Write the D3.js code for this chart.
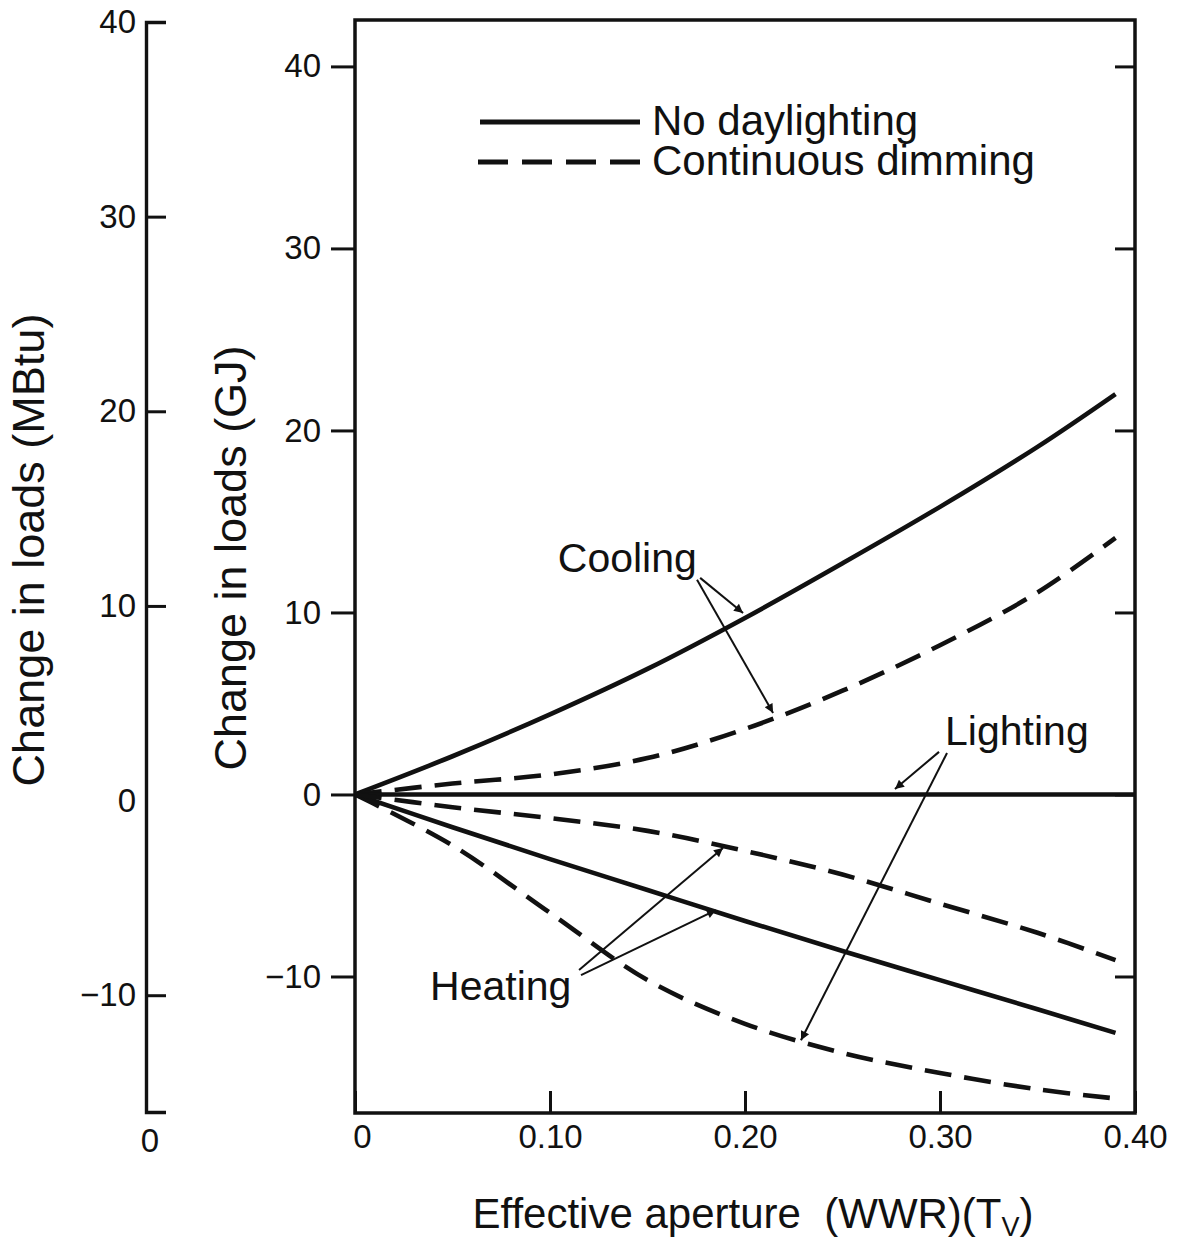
<!DOCTYPE html>
<html>
<head>
<meta charset="utf-8">
<script src="https://cdn.jsdelivr.net/npm/d3@7"></script>
<style>
  html, body { margin: 0; padding: 0; background: #fff; }
  text { font-family: "Liberation Sans", Arial, sans-serif; fill: #111; }
</style>
</head>
<body>
<svg width="1182" height="1244"></svg>
<script>
// effective aperture values (x) and change in loads, GJ
var aperture = [0, 0.05, 0.10, 0.15, 0.20, 0.25, 0.30, 0.35, 0.39];
var coolingNoDaylight = [0, 2.1, 4.4, 6.9, 9.7, 12.7, 15.8, 19.1, 22.0];
var coolingDimming = [0, 0.6, 1.1, 2.0, 3.6, 5.7, 8.2, 11.1, 14.1];
var heatingNoDaylight = [0, -1.8, -3.55, -5.25, -6.95, -8.6, -10.2, -11.8, -13.1];
var heatingDimming = [0, -0.7, -1.3, -2.0, -3.1, -4.4, -6.0, -7.6, -9.1];
var lightingDimming = [0, -2.8, -6.5, -10.2, -12.6, -14.2, -15.3, -16.2, -16.7];
var lightingAperture = [0, 0.40];
var lightingNoDaylight = [0, 0];

var gjTicks = [40, 30, 20, 10, 0, -10];
var mbtuTicks = [40, 30, 20, 10, 0, -10];
var xTicks = [0, 0.10, 0.20, 0.30, 0.40];
var xTickLabels = ["0", "0.10", "0.20", "0.30", "0.40"];

var legendItems = ["No daylighting", "Continuous dimming"];

// annotation labels: [text, x, y] and arrows [x0, y0, x1, y1] in data units
var labels = [
  ["Cooling", 0.104, 12.2],
  ["Lighting", 0.3026, 2.7],
  ["Heating", 0.0385, -11.3]
];
var arrows = [
  [0.177, 11.9, 0.199, 9.97],
  [0.1754, 11.8, 0.2144, 4.48],
  [0.2995, 2.34, 0.2769, 0.3],
  [0.3036, 2.28, 0.2287, -13.5],
  [0.1149, -9.64, 0.1887, -2.94],
  [0.1159, -9.92, 0.1851, -6.35]
];

var svg = d3.select("svg");

svg.append("rect").attr("width", 1182).attr("height", 1244).attr("fill", "#fff");

var x = d3.scaleLinear().domain([0, 0.4]).range([355, 1135]);
var y = d3.scaleLinear().domain([-17.5, 42.55]).range([1113, 20]);
var yB = d3.scaleLinear().domain([-16, 40]).range([1112, 22]);

var defs = svg.append("defs");
defs.append("marker")
  .attr("id", "head")
  .attr("viewBox", "0 0 10 10")
  .attr("refX", 10)
  .attr("refY", 5)
  .attr("markerWidth", 17)
  .attr("markerHeight", 9)
  .attr("markerUnits", "userSpaceOnUse")
  .attr("orient", "auto")
  .append("path")
  .attr("d", "M0,0L10,5L0,10Z")
  .attr("fill", "#111");

// MBtu axis on the far left
var mbtuAxis = svg.append("g")
  .attr("transform", "translate(146,0)")
  .call(d3.axisLeft(yB).tickValues(mbtuTicks).tickSizeInner(-20).tickSizeOuter(-20).tickPadding(10));

mbtuAxis.select(".domain").attr("stroke", "#111").attr("stroke-width", 3.4);
mbtuAxis.selectAll(".tick line").attr("stroke", "#111").attr("stroke-width", 3)
  .filter(function(d) { return d === 0; }).remove();
mbtuAxis.selectAll(".tick text").attr("font-size", 33).attr("font-family", null);

svg.append("text")
  .attr("x", 150)
  .attr("y", 1152)
  .attr("text-anchor", "middle")
  .attr("font-size", 33)
  .text("0");

// main plot axes
var leftAxis = svg.append("g")
  .attr("transform", "translate(355,0)")
  .call(d3.axisLeft(y).tickValues(gjTicks).tickSize(24).tickPadding(10));

var rightAxis = svg.append("g")
  .attr("transform", "translate(1135,0)")
  .call(d3.axisLeft(y).tickValues(gjTicks).tickSize(20).tickFormat(""));

var bottomAxis = svg.append("g")
  .attr("transform", "translate(0,1113)")
  .call(d3.axisBottom(x).tickValues(xTicks).tickSizeInner(-22).tickSizeOuter(0).tickPadding(12)
    .tickFormat(function(d, i) { return xTickLabels[i]; }));

[leftAxis, rightAxis, bottomAxis].forEach(function(a) {
  a.select(".domain").remove();
  a.selectAll(".tick line").attr("stroke", "#111").attr("stroke-width", 3);
  a.selectAll(".tick text").attr("font-size", 33).attr("font-family", null);
});
bottomAxis.selectAll(".tick text").filter(function(d) { return d === 0; }).attr("x", 7);

// frame
svg.append("rect")
  .attr("x", x(0))
  .attr("y", y.range()[1])
  .attr("width", x(0.4) - x(0))
  .attr("height", y.range()[0] - y.range()[1])
  .attr("fill", "none")
  .attr("stroke", "#111")
  .attr("stroke-width", 3.5);

// axis titles
svg.append("text")
  .attr("transform", "translate(44,550)rotate(-90)")
  .attr("text-anchor", "middle")
  .attr("font-size", 45)
  .text("Change in loads (MBtu)");

svg.append("text")
  .attr("transform", "translate(246,558)rotate(-90)")
  .attr("text-anchor", "middle")
  .attr("font-size", 45)
  .text("Change in loads (GJ)");

var xTitle = svg.append("text")
  .attr("x", 753)
  .attr("y", 1228)
  .attr("text-anchor", "middle")
  .attr("font-size", 42);
xTitle.append("tspan").text("Effective aperture\u00a0\u00a0(WWR)(T");
xTitle.append("tspan").attr("font-size", 27).attr("dy", 8).text("V");
xTitle.append("tspan").attr("dy", -8).text(")");

// curves
var line = d3.line()
  .x(function(d) { return x(d[0]); })
  .y(function(d) { return y(d[1]); })
  .curve(d3.curveCatmullRom.alpha(0.5));

var series = [
  { xs: aperture, ys: coolingNoDaylight, dashed: false },
  { xs: aperture, ys: coolingDimming, dashed: true },
  { xs: lightingAperture, ys: lightingNoDaylight, dashed: false },
  { xs: aperture, ys: lightingDimming, dashed: true },
  { xs: aperture, ys: heatingNoDaylight, dashed: false },
  { xs: aperture, ys: heatingDimming, dashed: true }
];

svg.append("g")
  .selectAll("path")
  .data(series)
  .enter().append("path")
  .attr("d", function(s) { return line(s.xs.map(function(v, i) { return [v, s.ys[i]]; })); })
  .attr("fill", "none")
  .attr("stroke", "#111")
  .attr("stroke-width", 4.6)
  .attr("stroke-linecap", "butt")
  .attr("stroke-dasharray", function(s) { return s.dashed ? "27 13" : null; });

// annotations
svg.append("g")
  .selectAll("line")
  .data(arrows)
  .enter().append("line")
  .attr("x1", function(d) { return x(d[0]); })
  .attr("y1", function(d) { return y(d[1]); })
  .attr("x2", function(d) { return x(d[2]); })
  .attr("y2", function(d) { return y(d[3]); })
  .attr("stroke", "#111")
  .attr("stroke-width", 2)
  .attr("marker-end", "url(#head)");

svg.append("g")
  .selectAll("text")
  .data(labels)
  .enter().append("text")
  .attr("x", function(d) { return x(d[1]); })
  .attr("y", function(d) { return y(d[2]); })
  .attr("font-size", 41)
  .text(function(d) { return d[0]; });

// legend
var legend = svg.append("g")
  .selectAll("g")
  .data(legendItems)
  .enter().append("g")
  .attr("transform", function(d, i) { return "translate(0," + (122 + i * 40) + ")"; });

legend.append("line")
  .attr("x1", function(d, i) { return i ? 478 : 480; })
  .attr("x2", 640)
  .attr("stroke", "#111")
  .attr("stroke-width", 5)
  .attr("stroke-dasharray", function(d, i) { return i ? "30 14" : null; });

legend.append("text")
  .attr("x", 652)
  .attr("y", 13)
  .attr("font-size", 42)
  .text(function(d) { return d; });
</script>
</body>
</html>
